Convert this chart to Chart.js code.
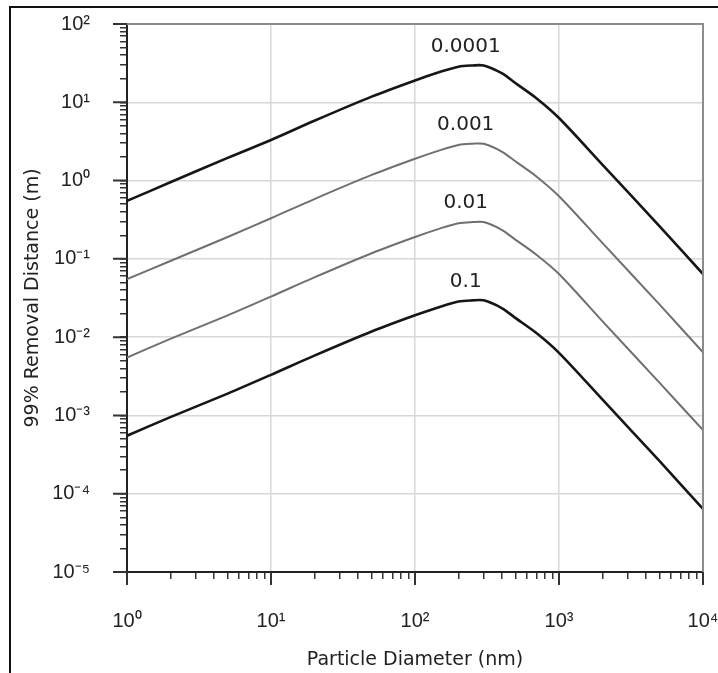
<!DOCTYPE html>
<html>
<head>
<meta charset="utf-8">
<title>99% Removal Distance</title>
<script src="https://cdn.jsdelivr.net/npm/chart.js@4.4.1/dist/chart.umd.min.js"></script>
<style>
  html, body { margin: 0; padding: 0; background: #fff; }
  #wrap { position: relative; width: 718px; height: 673px; overflow: hidden; }
  #frame { position: absolute; left: 9px; top: 6px; width: 720px; height: 680px; border-left: 2px solid #111; border-top: 2px solid #111; }
  #chart { position: absolute; left: 0; top: 0; }
</style>
</head>
<body>
<div id="wrap">
  <div id="frame"></div>
  <canvas id="chart" width="718" height="673"></canvas>
</div>
<script>
// --- dados ---
const diameters = [1, 2, 5, 10, 20, 50, 100, 150, 200, 250, 300, 400, 500, 700, 1000, 2000, 5000, 10000];
const curveNames = ['0.0001', '0.001', '0.01', '0.1'];

const dist0001 = [0.55, 0.95, 1.95, 3.3, 5.8, 11.8, 19, 24.5, 28.5, 29.5, 29.5, 23.5, 17.5, 11.2, 6.3, 1.6, 0.26, 0.064];
const dist001  = [0.055, 0.094, 0.19, 0.33, 0.58, 1.18, 1.9, 2.45, 2.85, 2.95, 2.95, 2.35, 1.75, 1.12, 0.63, 0.16, 0.026, 0.0064];
const dist01   = [0.0055, 0.0095, 0.019, 0.033, 0.058, 0.118, 0.19, 0.245, 0.285, 0.295, 0.295, 0.235, 0.175, 0.112, 0.064, 0.016, 0.0026, 0.00065];
const dist1    = [0.00055, 0.00095, 0.0019, 0.0033, 0.0058, 0.0118, 0.019, 0.0245, 0.0285, 0.0295, 0.0295, 0.0235, 0.0175, 0.0112, 0.0063, 0.0016, 0.00026, 0.000064];

const xTickValues = [1, 10, 100, 1000, 10000];
const xTickLabels = ['10⁰', '10¹', '10²', '10³', '10⁴'];
const yTickValues = [1e-5, 1e-4, 1e-3, 1e-2, 1e-1, 1, 10, 100];
const yTickLabels = ['10⁻⁵', '10⁻⁴', '10⁻³', '10⁻²', '10⁻¹', '10⁰', '10¹', '10²'];

// diâmetro onde ficam os rótulos das curvas
const labelDiameter = 225;

const lineColors = ['#161616', '#707070', '#707070', '#161616'];
const lineWidths = [2.6, 2, 2, 2.6];

const seriesData = [dist0001, dist001, dist01, dist1];

// ticks de 1..9 em cada década
function logTicks(majors) {
    const ticks = [];
    majors.forEach((v, i) => {
        ticks.push({ value: v, major: true });
        if (i < majors.length - 1) {
            for (let k = 2; k <= 9; k++) ticks.push({ value: v * k, major: false });
        }
    });
    return ticks;
}

const gridColor = ctx => (ctx.tick && ctx.tick.major) ? '#d8d8d8' : 'rgba(0,0,0,0)';

// moldura, ticks maiores e rótulos das curvas
const decorPlugin = {
    id: 'decor',
    afterDraw(chart) {
        const { ctx, chartArea: a, scales: { x, y } } = chart;
        ctx.save();
        ctx.strokeStyle = '#8c8c8c';
        ctx.lineWidth = 2;
        ctx.beginPath();
        ctx.moveTo(a.left, a.top);
        ctx.lineTo(a.right, a.top);
        ctx.lineTo(a.right, a.bottom);
        ctx.stroke();

        ctx.strokeStyle = '#333';
        ctx.lineWidth = 2;
        ctx.beginPath();
        xTickValues.forEach(v => {
            const px = x.getPixelForValue(v);
            ctx.moveTo(px, a.bottom);
            ctx.lineTo(px, a.bottom + 13);
        });
        yTickValues.forEach(v => {
            const py = y.getPixelForValue(v);
            ctx.moveTo(a.left, py);
            ctx.lineTo(a.left - 14, py);
        });
        ctx.stroke();

        ctx.fillStyle = '#222';
        ctx.font = '20px "DejaVu Sans"';
        ctx.textAlign = 'center';
        ctx.textBaseline = 'middle';
        seriesData.forEach((d, i) => {
            const peak = Math.max(...d);
            ctx.fillText(curveNames[i], x.getPixelForValue(labelDiameter), y.getPixelForValue(peak) - 19);
        });
        ctx.restore();
    }
};

new Chart(document.getElementById('chart'), {
    type: 'line',
    data: {
        labels: diameters,
        datasets: seriesData.map((d, i) => ({
            label: curveNames[i],
            data: d.map((v, j) => ({ x: diameters[j], y: v })),
            borderColor: lineColors[i],
            borderWidth: lineWidths[i],
            pointRadius: 0,
            fill: false,
            tension: 0.3
        }))
    },
    options: {
        responsive: false,
        animation: false,
        layout: { padding: { top: 24, right: 15, bottom: 0, left: 0 } },
        plugins: { legend: { display: false }, tooltip: { enabled: false } },
        scales: {
            x: {
                type: 'logarithmic',
                position: 'bottom',
                min: 1,
                max: 10000,
                afterBuildTicks: s => { s.ticks = logTicks(xTickValues); },
                afterFit: s => { s.height = 101; s.paddingLeft = 0; s.paddingRight = 0; },
                grid: { color: gridColor, lineWidth: 1.5, tickColor: '#333', tickLength: 7, tickWidth: 1.5 },
                border: { color: '#222', width: 2 },
                ticks: {
                    autoSkip: false,
                    maxRotation: 0,
                    padding: 30,
                    color: '#222',
                    font: { family: 'Liberation Sans', size: 20 },
                    callback: v => { const i = xTickValues.indexOf(v); return i >= 0 ? xTickLabels[i] : ''; }
                },
                title: {
                    display: true,
                    text: 'Particle Diameter (nm)',
                    color: '#222',
                    font: { family: 'DejaVu Sans', size: 19 },
                    padding: { top: 0, bottom: 2 }
                }
            },
            y: {
                type: 'logarithmic',
                position: 'left',
                min: 1e-5,
                max: 100,
                afterBuildTicks: s => { s.ticks = logTicks(yTickValues); },
                afterFit: s => { s.width = 127; s.paddingTop = 0; s.paddingBottom = 0; },
                grid: { color: gridColor, lineWidth: 1.5, tickColor: '#333', tickLength: 7, tickWidth: 1.5 },
                border: { color: '#222', width: 2 },
                ticks: {
                    autoSkip: false,
                    padding: 30,
                    color: '#222',
                    font: { family: 'Liberation Sans', size: 20 },
                    callback: v => { const i = yTickValues.indexOf(v); return i >= 0 ? yTickLabels[i] : ''; }
                },
                title: {
                    display: true,
                    text: '99% Removal Distance (m)',
                    color: '#222',
                    font: { family: 'DejaVu Sans', size: 19 },
                    padding: { top: 22, bottom: 0 }
                }
            }
        }
    },
    plugins: [decorPlugin]
});
</script>
</body>
</html>
